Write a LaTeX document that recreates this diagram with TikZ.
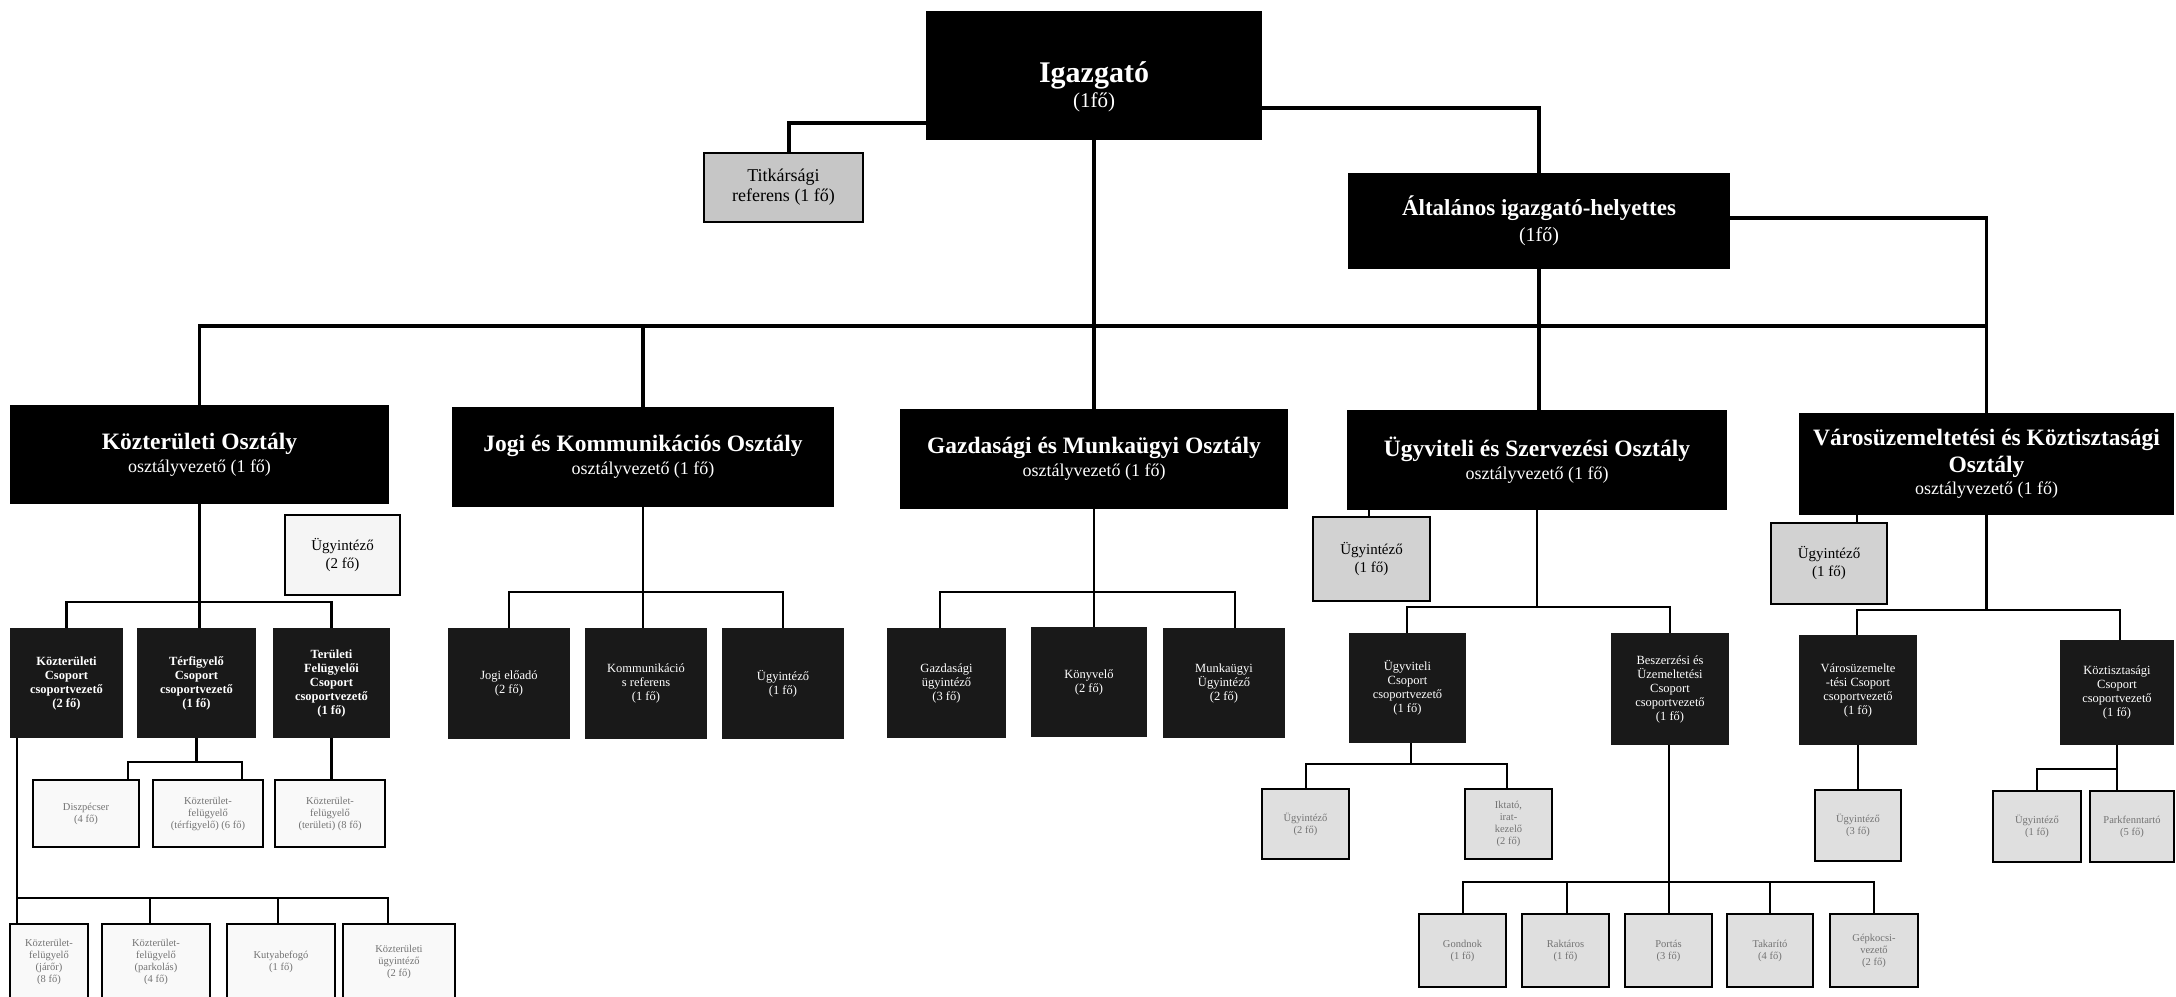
\documentclass[tikz,border=0pt]{standalone}
\usepackage{fontspec}
\setmainfont{Liberation Serif}
\newcommand\bx[7]{\node[#2,minimum width={(#5)-(#3)},minimum height={(#6)-(#4)}] (#1) at ({((#3)+(#5))/2},{((#4)+(#6))/2}) {#7};}
\newcommand\ttl[1]{{\bfseries\fontsize{23.5}{26}\selectfont #1}}
\begin{document}
\begin{tikzpicture}[x=1pt,y=-1pt,
  conn/.style={line width=3.4pt},
  sconn/.style={line width=2.6pt},
  dept/.style={fill=black,text=white,inner sep=0pt,align=center,font=\fontsize{18}{21}\selectfont},
  grp/.style={fill=black!90,text=white,inner sep=0pt,align=center,font=\fontsize{12.5}{14}\selectfont},
  gbox/.style={draw=black,line width=1.8pt,fill=gray!40,inner sep=0pt,align=center,font=\fontsize{15}{18}\selectfont},
  lbox/.style={draw=black,line width=2pt,fill=gray!12,inner sep=0pt,align=center,text=black!55,font=\fontsize{10.5}{12}\selectfont}]
\path[use as bounding box] (0,0) rectangle (2176,996);
\clip (0,0) rectangle (2176,996);
% top level
\bx{igaz}{dept}{926}{11}{1262}{140}{\rule{0pt}{44pt}{\fontsize{30}{34}\selectfont\bfseries Igazgató}\\[3pt]{\fontsize{21}{24}\selectfont(1fő)}}
\bx{tit}{gbox,fill=gray!45,font=\fontsize{18}{20}\selectfont}{704}{153}{863}{222}{Titkársági\\referens (1 fő)}
\bx{alt}{dept,font=\fontsize{20}{24}\selectfont}{1348}{173}{1730}{269}{{\bfseries\fontsize{23}{26}\selectfont Általános igazgató-helyettes}\\[2pt](1fő)}
% departments
\bx{kozt}{dept}{10}{405}{389}{504}{\ttl{Közterületi Osztály}\\[2pt]osztályvezető (1 fő)}
\bx{jogi}{dept}{452}{407}{834}{507}{\ttl{Jogi és Kommunikációs Osztály}\\[2pt]osztályvezető (1 fő)}
\bx{gaz}{dept}{900}{409}{1288}{509}{\ttl{Gazdasági és Munkaügyi Osztály}\\[2pt]osztályvezető (1 fő)}
\bx{ugy}{dept}{1347}{410}{1727}{510}{\ttl{Ügyviteli és Szervezési Osztály}\\[2pt]osztályvezető (1 fő)}
\bx{var}{dept}{1799}{413}{2174}{515}{\ttl{Városüzemeltetési és Köztisztasági}\\[5pt]\ttl{Osztály}\\[1pt]osztályvezető (1 fő)}
% Közterületi
\bx{kui}{gbox,fill=gray!8}{285}{515}{400}{595}{Ügyintéző\\(2 fő)}
\bx{kcs}{grp,font=\fontsize{12.5}{14}\selectfont\bfseries}{10}{628}{123}{738}{Közterületi\\Csoport\\csoportvezető\\(2 fő)}
\bx{tfg}{grp,font=\fontsize{12.5}{14}\selectfont\bfseries}{137}{628}{256}{738}{Térfigyelő\\Csoport\\csoportvezető\\(1 fő)}
\bx{ter}{grp,font=\fontsize{12.5}{14}\selectfont\bfseries}{273}{628}{390}{738}{Területi\\Felügyelői\\Csoport\\csoportvezető\\(1 fő)}
\bx{tc1}{lbox,fill=gray!5}{33}{780}{139}{847}{Diszpécser\\(4 fő)}
\bx{tc2}{lbox,fill=gray!5}{153}{780}{263}{847}{Közterület-\\felügyelő\\(térfigyelő) (6 fő)}
\bx{tec}{lbox,fill=gray!5}{275}{780}{385}{847}{Közterület-\\felügyelő\\(területi) (8 fő)}
\bx{b1}{lbox,fill=gray!5}{10}{924}{88}{1000}{Közterület-\\felügyelő\\(járőr)\\(8 fő)}
\bx{b2}{lbox,fill=gray!5}{102}{924}{210}{1000}{Közterület-\\felügyelő\\(parkolás)\\(4 fő)}
\bx{b3}{lbox,fill=gray!5}{227}{924}{335}{1000}{Kutyabefogó\\(1 fő)}
\bx{b4}{lbox,fill=gray!5}{343}{924}{455}{1000}{Közterületi\\ügyintéző\\(2 fő)}
% Jogi
\bx{je}{grp}{448}{628}{570}{739}{Jogi előadó\\(2 fő)}
\bx{kom}{grp}{585}{628}{707}{739}{Kommunikáció\\s referens\\(1 fő)}
\bx{ju}{grp}{722}{628}{844}{739}{Ügyintéző\\(1 fő)}
% Gazdasági
\bx{gu}{grp}{887}{628}{1006}{738}{Gazdasági\\ügyintéző\\(3 fő)}
\bx{kv}{grp}{1031}{627}{1147}{737}{Könyvelő\\(2 fő)}
\bx{mu}{grp}{1163}{628}{1285}{738}{Munkaügyi\\Ügyintéző\\(2 fő)}
% Ügyviteli
\bx{ui}{gbox,fill=gray!35}{1313}{517}{1430}{601}{Ügyintéző\\(1 fő)}
\bx{uc}{grp}{1349}{633}{1466}{743}{Ügyviteli\\Csoport\\csoportvezető\\(1 fő)}
\bx{bc}{grp}{1611}{633}{1729}{745}{Beszerzési és\\Üzemeltetési\\Csoport\\csoportvezető\\(1 fő)}
\bx{uc1}{lbox,fill=gray!25}{1262}{789}{1349}{859}{Ügyintéző\\(2 fő)}
\bx{uc2}{lbox,fill=gray!25}{1465}{789}{1552}{859}{Iktató,\\irat-\\kezelő\\(2 fő)}
\bx{bb1}{lbox,fill=gray!25}{1419}{914}{1506}{987}{Gondnok\\(1 fő)}
\bx{bb2}{lbox,fill=gray!25}{1522}{914}{1609}{987}{Raktáros\\(1 fő)}
\bx{bb3}{lbox,fill=gray!25}{1625}{914}{1712}{987}{Portás\\(3 fő)}
\bx{bb4}{lbox,fill=gray!25}{1727}{914}{1813}{987}{Takarító\\(4 fő)}
\bx{bb5}{lbox,fill=gray!25}{1830}{914}{1918}{987}{Gépkocsi-\\vezető\\(2 fő)}
% Városüzemeltetési
\bx{vi}{gbox,fill=gray!35}{1771}{523}{1887}{604}{Ügyintéző\\(1 fő)}
\bx{vc}{grp}{1799}{635}{1917}{745}{Városüzemelte\\-tési Csoport\\csoportvezető\\(1 fő)}
\bx{kc}{grp}{2060}{640}{2174}{745}{Köztisztasági\\Csoport\\csoportvezető\\(1 fő)}
\bx{vcc}{lbox,fill=gray!25}{1815}{790}{1901}{861}{Ügyintéző\\(3 fő)}
\bx{kcc1}{lbox,fill=gray!25}{1993}{791}{2081}{862}{Ügyintéző\\(1 fő)}
\bx{kcc2}{lbox,fill=gray!25}{2090}{791}{2174}{862}{Parkfenntartó\\(5 fő)}
% ---- connectors: top
\coordinate (c1) at (789,123);
\coordinate (c2) at (1537,108);
\coordinate (c3) at (1985,218);
\coordinate (bus) at (0,326);
\draw[conn] (igaz.west|-c1) -| (tit.north-|c1);
\draw[conn] (igaz.east|-c2) -| (alt.north);
\draw[conn] (igaz.south) -- (gaz.north);
\draw[conn] (alt.south) -- (alt.south|-ugy.north);
\draw[conn] (alt.east|-c3) -| (var.north);
\draw[conn] (kozt.north) -- (kozt.north|-bus) -- (var.north|-bus);
\draw[conn] (jogi.north|-bus) -- (jogi.north);
% Közterületi
\coordinate (k1) at (200,602);
\draw[sconn] (kozt.south) -- (kozt.south|-tfg.north);
\draw[sconn] (kcs.north) |- (ter.north|-k1) -- (ter.north);
\coordinate (k2) at (195,762);
\coordinate (k2a) at (128,762);
\coordinate (k2b) at (242,762);
\draw[sconn] (tfg.south) -- (tfg.south|-k2);
\draw[sconn] (tc1.north-|k2a) -- (k2a) -- (k2b) -- (tc2.north-|k2b);
\draw[sconn] (ter.south) -- (ter.south|-tec.north);
\coordinate (k3) at (17,898);
\coordinate (k3r) at (388,898);
\coordinate (d2) at (150,898);
\coordinate (d3) at (278,898);
\draw[sconn] (kcs.south-|k3) -- (k3) -- (k3r) -- (b4.north-|k3r);
\draw[sconn] (k3) -- (b1.north-|k3);
\draw[sconn] (d2) -- (b2.north-|d2);
\draw[sconn] (d3) -- (b3.north-|d3);
% Jogi
\coordinate (j1) at (648,592);
\draw[sconn] (jogi.south) -- (jogi.south|-kom.north);
\draw[sconn] (je.north) |- (ju.north|-j1) -- (ju.north);
% Gazdasági
\coordinate (g1a) at (940,592);
\coordinate (g1b) at (1235,592);
\draw[sconn] (gaz.south) -- (gaz.south|-kv.north);
\draw[sconn] (gu.north-|g1a) -- (g1a) -- (g1b) -- (mu.north-|g1b);
% Ügyviteli
\coordinate (u0) at (1369,0);
\draw[sconn] (ugy.south-|u0) -- (ui.north-|u0);
\coordinate (u1a) at (1407,607);
\coordinate (u1b) at (1670,607);
\draw[sconn] (ugy.south) -- (ugy.south|-u1a);
\draw[sconn] (uc.north-|u1a) -- (u1a) -- (u1b) -- (bc.north-|u1b);
\coordinate (u2) at (1411,764);
\coordinate (u2a) at (1306,764);
\coordinate (u2b) at (1507,764);
\draw[sconn] (uc.south-|u2) -- (u2);
\draw[sconn] (uc1.north-|u2a) -- (u2a) -- (u2b) -- (uc2.north-|u2b);
\coordinate (b0) at (1669,882);
\coordinate (b0a) at (1463,882);
\coordinate (b0b) at (1567,882);
\coordinate (b0d) at (1770,882);
\coordinate (b0e) at (1874,882);
\draw[sconn] (bc.south-|b0) -- (bb3.north-|b0);
\draw[sconn] (bb1.north-|b0a) -- (b0a) -- (b0e) -- (bb5.north-|b0e);
\draw[sconn] (b0b) -- (bb2.north-|b0b);
\draw[sconn] (b0d) -- (bb4.north-|b0d);
% Városüzemeltetési
\coordinate (v0) at (1857,0);
\draw[sconn] (var.south-|v0) -- (vi.north-|v0);
\coordinate (v1a) at (1857,610);
\coordinate (v1b) at (2120,610);
\draw[sconn] (var.south) -- (var.south|-v1a);
\draw[sconn] (vc.north-|v1a) -- (v1a) -- (v1b) -- (kc.north-|v1b);
\coordinate (v2) at (1858,0);
\draw[sconn] (vc.south-|v2) -- (vcc.north-|v2);
\coordinate (k4) at (2117,769);
\coordinate (k4a) at (2037,769);
\draw[sconn] (kc.south-|k4) -- (k4) -- (k4a) -- (kcc1.north-|k4a);
\draw[sconn] (k4) -- (kcc2.north-|k4);
\end{tikzpicture}
\end{document}
